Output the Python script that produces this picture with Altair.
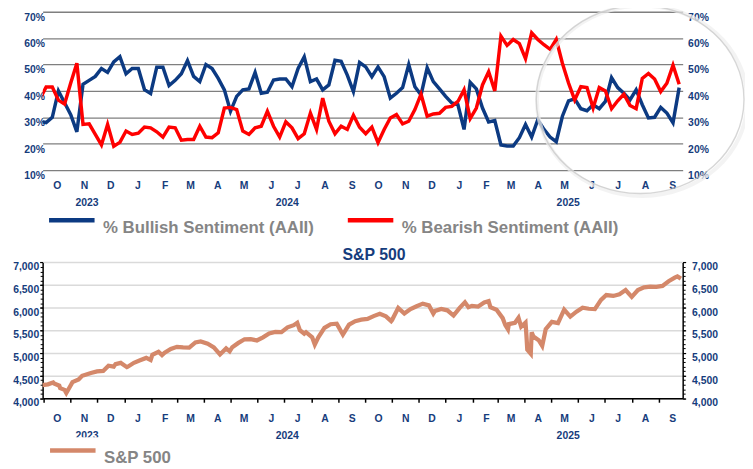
import altair as alt
import pandas as pd

# ---------------- data ----------------
week_start = "2023-09-27"  # AAII weekly survey dates (every 7 days)
bullish = [28.5, 28, 30, 40, 35.5, 31, 24.5, 42.5, 44, 45.5,
           48.5, 47, 51, 53, 46.5, 48.5, 48.5, 40.5, 39, 49,
           49, 42, 44, 46.5, 51.5, 45.5, 43.5, 50, 48.5, 44.75,
           40.4, 32.25, 37.9, 40.4, 40.75, 47, 39.1, 39.5, 44.1, 44.5,
           44.5, 41.6, 48.5, 52.9, 43.5, 44.5, 40.4, 42.25, 51.6, 51.25,
           46, 39.75, 50.75, 49.1, 45.4, 49.1, 45.4, 37.25, 39.1, 41.25,
           50, 41.6, 38.5, 48.75, 43.5, 40.75, 37.9, 35.4, 34.75, 25.4,
           43.25, 40.75, 33.5, 28.25, 28.75, 19.5, 19.1, 19.1, 22.25, 27.25,
           22.5, 29.1, 25.4, 22.5, 20.75, 30.4, 36.25, 37, 33.25, 32.5,
           34.75, 33.25, 36, 45, 41.25, 39.1, 36.6, 40.4, 34.75, 29.75,
           30, 33.75, 31.6, 27.9, 41.25]
bearish = [37, 41.5, 41.5, 36.5, 35, 43, 50.5, 27.3, 27.5, 23.5,
           19.5, 27.3, 19, 20.5, 24.8, 23.5, 24, 26.3, 26, 24.5,
           22.5, 26.3, 26, 21.3, 21.6, 21.6, 26.6, 22.5, 22.25, 24.1,
           33.5, 33.75, 32.9, 24.75, 23.5, 26, 26.6, 32.25, 26.6, 22.5,
           28.25, 26, 21.9, 23.75, 31.6, 25.4, 37.25, 28.5, 23.75, 26.6,
           25.4, 30.75, 26.25, 23.75, 26.25, 20.4, 25.4, 29.75, 31, 27.5,
           28.5, 32.9, 38.75, 30.4, 31.25, 31.5, 33.75, 34.1, 36, 40.4,
           29.5, 33.5, 42.25, 47.25, 40, 60.75, 57.25, 59.5, 57.9, 52.25,
           62, 59.5, 57.5, 55.75, 59.5, 50.5, 43, 36.6, 41.6, 41.25,
           33.5, 41.25, 40, 33.25, 36.25, 38.75, 34.5, 33.25, 44.75, 46.6,
           44.5, 39.75, 42.9, 49.75, 42.5]

sp_dates = ["2023-09-29", "2023-10-06", "2023-10-12", "2023-10-13", "2023-10-19", "2023-10-20",
            "2023-10-25", "2023-10-27", "2023-11-02", "2023-11-03", "2023-11-10", "2023-11-14",
            "2023-11-17", "2023-11-24", "2023-12-01", "2023-12-08", "2023-12-14", "2023-12-20",
            "2023-12-22", "2023-12-28", "2023-12-29", "2024-01-04", "2024-01-05", "2024-01-12",
            "2024-01-19", "2024-01-26", "2024-01-31", "2024-02-02", "2024-02-09", "2024-02-13",
            "2024-02-16", "2024-02-23", "2024-03-01", "2024-03-08", "2024-03-15", "2024-03-22",
            "2024-03-28", "2024-04-05", "2024-04-12", "2024-04-19", "2024-04-26", "2024-04-30",
            "2024-05-03", "2024-05-10", "2024-05-17", "2024-05-24", "2024-05-31", "2024-06-07",
            "2024-06-14", "2024-06-21", "2024-06-28", "2024-07-05", "2024-07-12", "2024-07-16",
            "2024-07-19", "2024-07-24", "2024-07-26", "2024-08-02", "2024-08-05", "2024-08-09",
            "2024-08-16", "2024-08-23", "2024-08-30", "2024-09-06", "2024-09-13", "2024-09-20",
            "2024-09-27", "2024-10-04", "2024-10-11", "2024-10-18", "2024-10-25", "2024-10-31",
            "2024-11-01", "2024-11-08", "2024-11-15", "2024-11-22", "2024-11-29", "2024-12-06",
            "2024-12-13", "2024-12-18", "2024-12-20", "2024-12-27", "2025-01-03", "2025-01-10",
            "2025-01-17", "2025-01-23", "2025-01-27", "2025-01-31", "2025-02-07", "2025-02-14",
            "2025-02-19", "2025-02-21", "2025-02-28", "2025-03-07", "2025-03-10", "2025-03-13",
            "2025-03-14", "2025-03-21", "2025-03-25", "2025-03-28", "2025-04-02", "2025-04-03",
            "2025-04-04", "2025-04-08", "2025-04-09", "2025-04-11", "2025-04-17", "2025-04-21",
            "2025-04-25", "2025-05-02", "2025-05-09", "2025-05-16", "2025-05-23", "2025-05-30",
            "2025-06-06", "2025-06-13", "2025-06-20", "2025-06-27", "2025-07-03", "2025-07-11",
            "2025-07-18", "2025-07-25", "2025-08-01", "2025-08-08", "2025-08-15", "2025-08-22",
            "2025-08-29", "2025-09-05", "2025-09-12", "2025-09-19", "2025-09-22", "2025-09-26"]
sp_close = [4288, 4308, 4350, 4327, 4278, 4224,
            4186, 4117, 4318, 4358, 4415, 4496,
            4514, 4559, 4595, 4604, 4719, 4698,
            4754, 4783, 4770, 4688, 4697, 4784,
            4840, 4891, 4846, 4959, 5027, 4953,
            5006, 5089, 5137, 5124, 5117, 5234,
            5254, 5204, 5123, 4967, 5100, 5036,
            5128, 5223, 5303, 5305, 5278, 5347,
            5432, 5465, 5460, 5567, 5615, 5667,
            5505, 5427, 5459, 5346, 5186, 5344,
            5554, 5635, 5648, 5408, 5626, 5703,
            5738, 5751, 5815, 5865, 5808, 5705,
            5729, 5996, 5871, 5969, 6032, 6090,
            6051, 5872, 5931, 5971, 5942, 5827,
            5997, 6119, 6012, 6041, 6026, 6115,
            6144, 6013, 5955, 5770, 5615, 5522,
            5639, 5668, 5777, 5581, 5671, 5397,
            5074, 4983, 5457, 5363, 5283, 5158,
            5525, 5687, 5660, 5958, 5803, 5912,
            6000, 5977, 5968, 6173, 6280, 6260,
            6297, 6389, 6238, 6389, 6450, 6467,
            6460, 6482, 6584, 6664, 6693, 6643]

BULL = "% Bullish Sentiment (AAII)"
BEAR = "% Bearish Sentiment (AAII)"
SP_NAME = "S&P 500"
pct_ticks = [10, 20, 30, 40, 50, 60, 70]
sp_ticks = [4000, 4500, 5000, 5500, 6000, 6500, 7000]
sp_minor = list(range(4000, 7001, 100))

n = len(bullish)
dates = pd.date_range(week_start, periods=n, freq="7D")
sent = pd.DataFrame({
    "date": list(dates) * 2,
    "value": bullish + bearish,
    "series": [BULL] * n + [BEAR] * n,
})
sp = pd.DataFrame({"date": pd.to_datetime(sp_dates), "close": sp_close, "series": SP_NAME})

# ---------------- styling ----------------
NAVY = "#163C7C"
LINE_NAVY = "#0C3A82"
RED = "#FF0000"
SP_COLOR = "#D4886A"
GRAY_TXT = "#858585"
FONT = "Liberation Sans"

W, H = 647, 390.7
SENT_RANGE = [160, 0]
SP_RANGE = [390.7, 253.4]
SENT_OFFSET = SENT_RANGE[0] - H

months = [(2023, m) for m in (10, 11, 12)] + [(2024, m) for m in range(1, 13)] + [(2025, m) for m in range(1, 10)]
mid_month = [alt.DateTime(year=y, month=m, date=16) for y, m in months]
month_start = [alt.DateTime(year=y, month=m, date=1) for y, m in months]
year_pos = [alt.DateTime(year=2023, month=11, date=19),
            alt.DateTime(year=2024, month=7, date=4),
            alt.DateTime(year=2025, month=5, date=20)]

xscale = alt.Scale(domain=[alt.DateTime(year=2023, month=9, date=30),
                           alt.DateTime(year=2025, month=9, date=28)])
sent_scale = alt.Scale(domain=[10, 70], range=SENT_RANGE, nice=False, zero=False)
sp_scale = alt.Scale(domain=[4000, 7000], range=SP_RANGE, nice=False, zero=False)

LAB = dict(labelFont=FONT, labelFontWeight="bold", labelColor=NAVY, labelFontSize=10.5)


def xaxis(**kw):
    d = dict(title=None, grid=False, labelOverlap=False, labelFlush=False, labelBound=False)
    d.update(LAB)
    d.update(kw)
    return alt.Axis(**d)


def yaxis(**kw):
    d = dict(title=None, labelOverlap=False)
    d.update(LAB)
    d.update(kw)
    return alt.Axis(**d)


month_label_kw = dict(values=mid_month, format="%b", labelExpr="slice(datum.label, 0, 1)",
                      ticks=False, tickSize=0, domain=False)
year_label_kw = dict(values=year_pos, format="%Y", ticks=False, tickSize=0, domain=False)

# --- sentiment panel ---
sent_line = alt.Chart(sent).mark_line(strokeWidth=3.5, clip=True).encode(
    x=alt.X("date:T", scale=xscale,
            axis=xaxis(orient="bottom", offset=SENT_OFFSET, labelPadding=11, **month_label_kw)),
    y=alt.Y("value:Q", scale=sent_scale,
            axis=yaxis(orient="left", values=pct_ticks, grid=True, gridColor="#7f7f7f", gridWidth=1.3,
                       domain=False, ticks=False, tickSize=0, labelPadding=-2, labelOffset=5.5,
                       labelExpr="datum.value + '%'")),
    color=alt.Color("series:N",
                    scale=alt.Scale(domain=[BULL, BEAR], range=[LINE_NAVY, RED]),
                    legend=alt.Legend(orient="none", legendX=4, legendY=185, direction="horizontal",
                                      title=None, symbolType="stroke", symbolSize=2116,
                                      symbolStrokeWidth=4.5, labelFont=FONT, labelFontSize=17,
                                      labelFontWeight="bold", labelColor=GRAY_TXT, labelOffset=6,
                                      columnPadding=24, labelBaseline="top", padding=0,
                                      labelLimit=400)),
)

sent_ghost = alt.Chart(sent).mark_line(opacity=0).encode(
    x=alt.X("date:T", scale=xscale,
            axis=xaxis(orient="bottom", offset=SENT_OFFSET, labelPadding=28, **year_label_kw)),
    y=alt.Y("value:Q", scale=sent_scale,
            axis=yaxis(orient="right", values=pct_ticks, grid=False, domain=False, ticks=False,
                       tickSize=0, labelPadding=5, labelOffset=5.5, labelExpr="datum.value + '%'")),
    detail="series:N",
)

# --- S&P panel ---
sp_line = alt.Chart(sp).mark_line(strokeWidth=4.3, clip=True).encode(
    x=alt.X("date:T", scale=xscale,
            axis=xaxis(orient="bottom", values=month_start, labels=False, ticks=True, tickSize=4,
                       tickColor="black", tickWidth=1.5, domain=True, domainColor="black",
                       domainWidth=1.5)),
    y=alt.Y("close:Q", scale=sp_scale,
            axis=yaxis(orient="left", values=sp_ticks, format=",.0f", grid=True, gridColor="#dadada",
                       gridWidth=1.5, domain=True, domainColor="black", domainWidth=1.5,
                       ticks=True, tickSize=3, tickColor="black", tickWidth=1.2,
                       labelPadding=1, labelOffset=4.5)),
    color=alt.Color("series:N",
                    scale=alt.Scale(domain=[SP_NAME], range=[SP_COLOR]),
                    legend=alt.Legend(orient="none", legendX=5, legendY=418, direction="horizontal",
                                      title=None, symbolType="stroke", symbolSize=2116,
                                      symbolStrokeWidth=4.5, labelFont=FONT, labelFontSize=17,
                                      labelFontWeight="bold", labelColor=GRAY_TXT, labelOffset=6,
                                      labelBaseline="top", padding=0, labelLimit=400)),
)

sp_ghost_r = alt.Chart(sp).mark_line(opacity=0).encode(
    x=alt.X("date:T", scale=xscale,
            axis=xaxis(orient="bottom", labelPadding=15.5, **month_label_kw)),
    y=alt.Y("close:Q", scale=sp_scale,
            axis=yaxis(orient="right", values=sp_ticks, format=",.0f", grid=False, domain=True,
                       domainColor="black", domainWidth=1.5, ticks=True, tickSize=3,
                       tickColor="black", tickWidth=1.2, labelPadding=6, labelOffset=4.5)),
)

sp_ghost_minor_l = alt.Chart(sp).mark_line(opacity=0).encode(
    x=alt.X("date:T", scale=xscale,
            axis=xaxis(orient="bottom", labelPadding=32.5, **year_label_kw)),
    y=alt.Y("close:Q", scale=sp_scale,
            axis=yaxis(orient="left", values=sp_minor, labels=False, grid=False, domain=False,
                       ticks=True, tickSize=2.5, tickColor="black", tickWidth=1)),
)

sp_ghost_minor_r = alt.Chart(sp).mark_line(opacity=0).encode(
    x=alt.X("date:T", scale=xscale, axis=None),
    y=alt.Y("close:Q", scale=sp_scale,
            axis=yaxis(orient="right", values=sp_minor, labels=False, grid=False, domain=False,
                       ticks=True, tickSize=2.5, tickColor="black", tickWidth=1)),
)

# --- annotations ---
anno = pd.DataFrame({"k": [0]})
ELLIPSE = "M -1.05 0 A 1.05 0.95 0 1 1 1.05 0 A 1.05 0.95 0 1 1 -1.05 0 Z"
circle_glow = alt.Chart(anno).mark_point(shape=ELLIPSE, size=41000, filled=False,
                                         stroke="#efefef", strokeWidth=4).encode(
    x=alt.value(606), y=alt.value(90))
circle = alt.Chart(anno).mark_point(shape=ELLIPSE, size=40000, filled=False,
                                    stroke="#c6c6c6", strokeWidth=1.4).encode(
    x=alt.value(604), y=alt.value(88.7))
# white strip that hides the lower part of the first year label, as in the source
label_mask = alt.Chart(anno).mark_rect(color="white").encode(
    x=alt.value(20), x2=alt.value(120), y=alt.value(430), y2=alt.value(437))
sp_title = alt.Chart(anno).mark_text(text="S&P 500", font=FONT, fontSize=16, fontWeight="bold",
                                     color=NAVY, align="center", baseline="middle").encode(
    x=alt.value(335), y=alt.value(245.5))

chart = alt.layer(
    sent_line, sent_ghost, sp_line, sp_ghost_r, sp_ghost_minor_l, sp_ghost_minor_r,
    circle_glow, circle, label_mask, sp_title,
).resolve_scale(
    y="independent", color="independent"
).resolve_axis(
    x="independent", y="independent"
).properties(
    width=W, height=H,
    padding={"left": 35, "top": 1.3, "right": 63, "bottom": 69},
    autosize=alt.AutoSizeParams(type="none"),
    background="white",
).configure_view(strokeWidth=0)

chart.save("out.html", embed_options={"renderer": "svg", "actions": False})
